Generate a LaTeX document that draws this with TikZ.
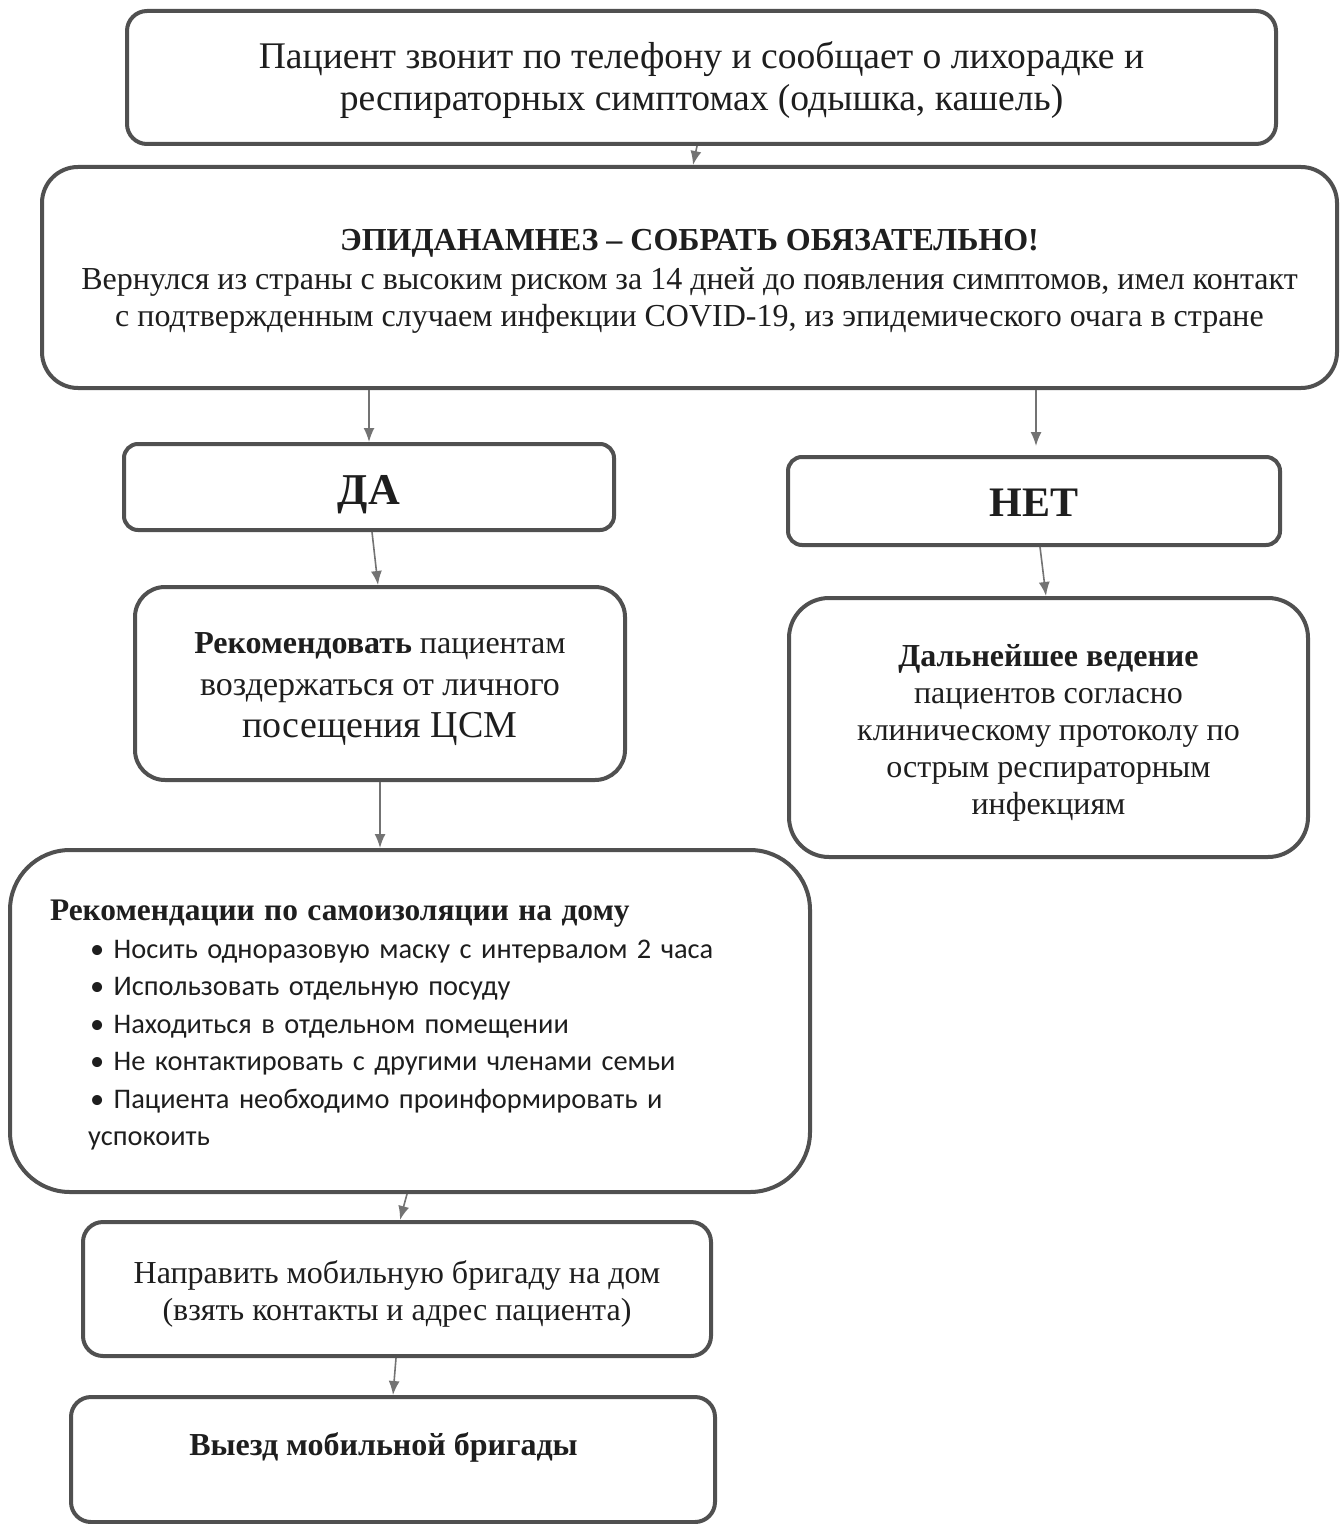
\documentclass[tikz,border=0pt]{standalone}
\usepackage{fontspec}
\setmainfont{Liberation Serif}
\newfontfamily\calib{Carlito}
\usetikzlibrary{arrows.meta,calc}
\definecolor{bordc}{RGB}{80,80,80}
\definecolor{arrc}{RGB}{115,115,115}
\definecolor{txtc}{RGB}{30,30,30}
\tikzset{
  box/.style={draw=bordc, line width=2pt, fill=white, inner sep=0pt},
  txt/.style={text=txtc, align=center, inner sep=0pt},
  arr/.style={draw=arrc, line width=0.8pt, -{Latex[length=7pt,width=5.5pt]}},
}
\begin{document}
\begin{tikzpicture}[x=0.5pt,y=-0.5pt]
\useasboundingbox[fill=white] (0,0) rectangle (1340,1524);

% boxes
\node[box, minimum width=574.5pt, minimum height=66.5pt, rounded corners=10pt] (call) at (701.5,77.5) {};
\node[box, minimum width=647.5pt, minimum height=110.5pt, rounded corners=18pt] (epi) at (689.5,277.5) {};
\node[box, minimum width=245pt, minimum height=43pt, rounded corners=7pt] (da) at (369,487) {};
\node[box, minimum width=246pt, minimum height=44pt, rounded corners=7pt] (net) at (1034,501) {};
\node[box, minimum width=245pt, minimum height=96.5pt, rounded corners=15pt] (rec) at (380,683.5) {};
\node[box, minimum width=259.5pt, minimum height=129.5pt, rounded corners=20pt] (dal) at (1048.5,727.5) {};
\node[box, minimum width=400pt, minimum height=171pt, rounded corners=30pt] (iso) at (410,1021) {};
\node[box, minimum width=314pt, minimum height=67pt, rounded corners=10pt] (nap) at (397,1289) {};
\node[box, minimum width=322pt, minimum height=62.5pt, rounded corners=10pt] (vyz) at (393,1459.5) {};

% texts
\node[txt, font=\fontsize{18.8}{21}\selectfont] (callt) at ($(call.center)+(0,3)$)
  {Пациент звонит по телефону и сообщает о лихорадке и\\респираторных симптомах (одышка, кашель)};

\node[txt, font=\fontsize{16}{18.5}\selectfont] (epit) at ($(epi.center)+(0,4)$)
  {{\bfseries ЭПИДАНАМНЕЗ – СОБРАТЬ ОБЯЗАТЕЛЬНО!}\\[1pt]
   Вернулся из страны с высоким риском за 14 дней до появления симптомов, имел контакт\\
   с подтвержденным случаем инфекции COVID-19, из эпидемического очага в стране};

\node[txt, font=\fontsize{22}{24}\selectfont\bfseries] (dat) at ($(da.center)+(0,8)$) {ДА};
\node[txt, font=\fontsize{21}{24}\selectfont\bfseries] (nett) at ($(net.center)+(0,2)$) {НЕТ};

\node[txt, font=\fontsize{16}{21}\selectfont] (rect) at ($(rec.center)+(0,5.5)$)
  {{\bfseries Рекомендовать} пациентам\\
   {\fontsize{17}{21}\selectfont воздержаться от личного}\\
   {\fontsize{19}{21}\selectfont посещения ЦСМ}};

\node[txt, font=\fontsize{16}{18.5}\selectfont] (dalt) at ($(dal.center)+(0,5)$)
  {{\bfseries Дальнейшее ведение}\\пациентов согласно\\клиническому протоколу по\\острым респираторным\\инфекциям};

\node[txt, align=left, text width=360pt,
      font=\calib\fontsize{14.2}{18.75}\selectfont] (isot) at ($(iso.center)+(0,4)$)
  {{\rmfamily\bfseries\fontsize{15.7}{18}\selectfont Рекомендации по самоизоляции на дому}\\
   \hspace*{20pt}• Носить одноразовую маску с интервалом 2 часа\\
   \hspace*{20pt}• Использовать отдельную посуду\\
   \hspace*{20pt}• Находиться в отдельном помещении\\
   \hspace*{20pt}• Не контактировать с другими членами семьи\\
   \hspace*{20pt}• Пациента необходимо проинформировать и\\
   \hspace*{19pt}успокоить};

\node[txt, font=\fontsize{16}{18.5}\selectfont] (napt) at ($(nap.center)+(0,4.5)$)
  {Направить мобильную бригаду на дом\\(взять контакты и адрес пациента)};

\node[txt, font=\fontsize{16}{18.5}\selectfont\bfseries] (vyzt) at ($(vyz.center)+(-9.5,-12.5)$)
  {Выезд мобильной бригады};

% connectors
\draw[arr] ($(call.south)+(-4.5,0)$) -- ($(epi.north)+(3.5,0)$);
\draw[arr] ($(epi.south)+(-320.5,0)$) -- (da.north);
\draw[arr, shorten >=4.5pt] ($(epi.south)+(346.5,0)$) -- ($(net.north)+(2,0)$);
\draw[arr] ($(da.south)+(3,0)$) -- ($(rec.north)+(-2,0)$);
\draw[arr] ($(net.south)+(6,0)$) -- ($(dal.north)+(-2.5,0)$);
\draw[arr] (rec.south) -- ($(iso.north)+(-30,0)$);
\draw[arr] ($(iso.south)+(-3,0)$) -- ($(nap.north)+(3,0)$);
\draw[arr] ($(nap.south)+(-1,0)$) -- (vyz.north);
\end{tikzpicture}
\end{document}
